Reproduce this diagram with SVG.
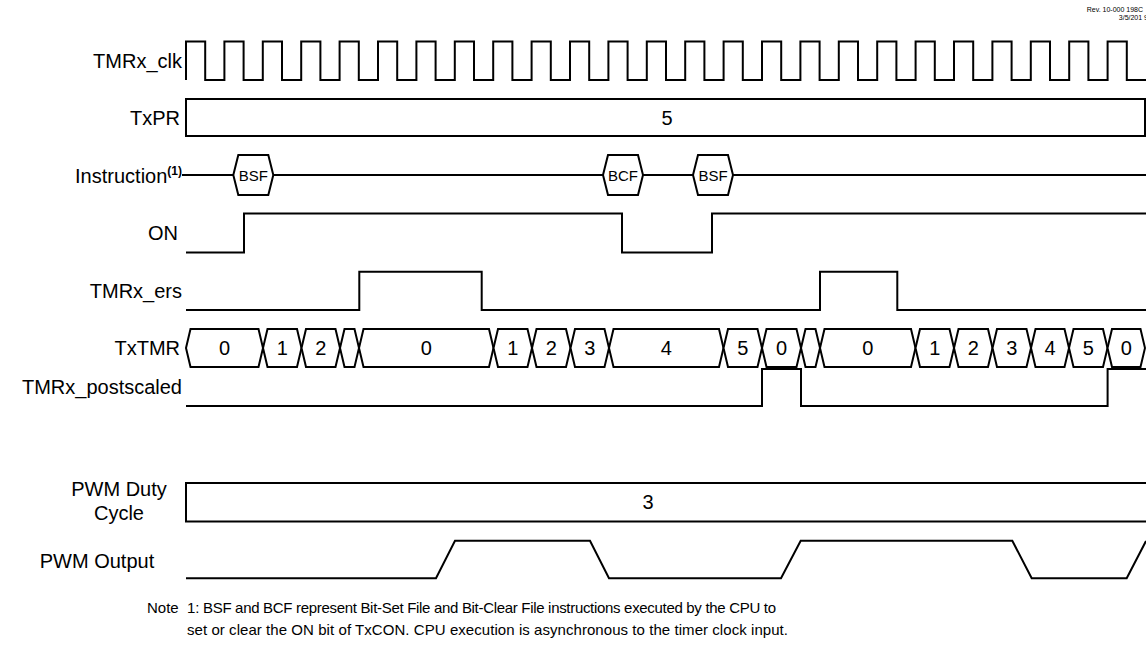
<svg xmlns="http://www.w3.org/2000/svg" width="1146" height="653" viewBox="0 0 1146 653">
<style>
text{font-family:"Liberation Sans",Arial,sans-serif;fill:#000}
.lbl{font-size:20px;text-anchor:end}
.val{font-size:20px;text-anchor:middle}
.ins{font-size:15px;text-anchor:middle}
.note{font-size:15px}
.rev{font-size:7px;text-anchor:end}
.w{fill:none;stroke:#000;stroke-width:2;stroke-linejoin:miter}
.b{fill:#fff;stroke:#000;stroke-width:2}
</style>
<rect width="1146" height="653" fill="#fff"/>
<g id="rev">
<text class="rev" x="1143" y="12">Rev. 10-000 198C</text>
<text class="rev" x="1148" y="20">3/5/201 9</text>
</g>
<g id="clk">
<text class="lbl" x="182" y="68">TMRx_clk</text>
<path class="w" d="M186,80 V41.5 H205.2 V80 H224.4 V41.5 H243.6 V80 H262.8 V41.5 H282 V80 H301.2 V41.5 H320.4 V80 H339.6 V41.5 H358.8 V80 H378 V41.5 H397.2 V80 H416.4 V41.5 H435.6 V80 H454.8 V41.5 H474 V80 H493.2 V41.5 H512.4 V80 H531.6 V41.5 H550.8 V80 H570 V41.5 H589.2 V80 H608.4 V41.5 H627.6 V80 H646.8 V41.5 H666 V80 H685.2 V41.5 H704.4 V80 H723.6 V41.5 H742.8 V80 H762 V41.5 H781.2 V80 H800.4 V41.5 H819.6 V80 H838.8 V41.5 H858 V80 H877.2 V41.5 H896.4 V80 H915.6 V41.5 H934.8 V80 H954 V41.5 H973.2 V80 H992.4 V41.5 H1011.6 V80 H1030.8 V41.5 H1050 V80 H1069.2 V41.5 H1088.4 V80 H1107.6 V41.5 H1126.8 V80 H1146"/>
</g>
<g id="txpr">
<text class="lbl" x="180" y="125">TxPR</text>
<rect class="b" x="186" y="99" width="959" height="37"/>
<text class="val" x="667" y="125">5</text>
</g>
<g id="instruction">
<text class="lbl" x="182" y="183">Instruction<tspan font-size="12" font-weight="bold" dy="-8">(1)</tspan></text>
<line class="w" x1="182" y1="175" x2="1146" y2="175"/>
<polygon class="b" points="233.3,175 238.3,155 268.3,155 273.3,175 268.3,195 238.3,195"/>
<text class="ins" x="253.3" y="181">BSF</text>
<polygon class="b" points="603,175 608,155 638,155 643,175 638,195 608,195"/>
<text class="ins" x="623" y="181">BCF</text>
<polygon class="b" points="693,175 698,155 728,155 733,175 728,195 698,195"/>
<text class="ins" x="713" y="181">BSF</text>
</g>
<g id="on">
<text class="lbl" x="178" y="240">ON</text>
<path class="w" d="M186,252.5 H244 V213.5 H622 V252.5 H712 V213.5 H1146"/>
</g>
<g id="ers">
<text class="lbl" x="182" y="298">TMRx_ers</text>
<path class="w" d="M186,310 H359.3 V271.7 H481.7 V310 H820 V271.7 H897.3 V310 H1146"/>
</g>
<g id="txtmr">
<text class="lbl" x="180" y="355">TxTMR</text>
<polygon class="b" points="186,348 190.5,329 258.5,329 263,348 258.5,367 190.5,367"/>
<polygon class="b" points="263,348 267.5,329 297,329 301.5,348 297,367 267.5,367"/>
<polygon class="b" points="301.5,348 306,329 335.5,329 340,348 335.5,367 306,367"/>
<polygon class="b" points="340,348 344.5,329 354.5,329 359,348 354.5,367 344.5,367"/>
<polygon class="b" points="359,348 363.5,329 489,329 493.5,348 489,367 363.5,367"/>
<polygon class="b" points="493.5,348 498,329 527.5,329 532,348 527.5,367 498,367"/>
<polygon class="b" points="532,348 536.5,329 566,329 570.5,348 566,367 536.5,367"/>
<polygon class="b" points="570.5,348 575,329 604.5,329 609,348 604.5,367 575,367"/>
<polygon class="b" points="609,348 613.5,329 719,329 723.5,348 719,367 613.5,367"/>
<polygon class="b" points="723.5,348 728,329 757.5,329 762,348 757.5,367 728,367"/>
<polygon class="b" points="762,348 766.5,329 796.5,329 801,348 796.5,367 766.5,367"/>
<polygon class="b" points="801,348 805.5,329 815.5,329 820,348 815.5,367 805.5,367"/>
<polygon class="b" points="820,348 824.5,329 911,329 915.5,348 911,367 824.5,367"/>
<polygon class="b" points="915.5,348 920,329 949.5,329 954,348 949.5,367 920,367"/>
<polygon class="b" points="954,348 958.5,329 988,329 992.5,348 988,367 958.5,367"/>
<polygon class="b" points="992.5,348 997,329 1026.5,329 1031,348 1026.5,367 997,367"/>
<polygon class="b" points="1031,348 1035.5,329 1064.5,329 1069,348 1064.5,367 1035.5,367"/>
<polygon class="b" points="1069,348 1073.5,329 1103,329 1107.5,348 1103,367 1073.5,367"/>
<polygon class="b" points="1107.5,348 1112,329 1140.5,329 1145,348 1140.5,367 1112,367"/>
<text class="val" x="224.5" y="355">0</text>
<text class="val" x="282.3" y="355">1</text>
<text class="val" x="320.8" y="355">2</text>
<text class="val" x="426.3" y="355">0</text>
<text class="val" x="512.8" y="355">1</text>
<text class="val" x="551.3" y="355">2</text>
<text class="val" x="589.8" y="355">3</text>
<text class="val" x="666.3" y="355">4</text>
<text class="val" x="742.8" y="355">5</text>
<text class="val" x="781.5" y="355">0</text>
<text class="val" x="867.8" y="355">0</text>
<text class="val" x="934.8" y="355">1</text>
<text class="val" x="973.3" y="355">2</text>
<text class="val" x="1011.8" y="355">3</text>
<text class="val" x="1050" y="355">4</text>
<text class="val" x="1088.3" y="355">5</text>
<text class="val" x="1126.3" y="355">0</text>
</g>
<g id="postscaled">
<text class="lbl" x="182" y="394">TMRx_postscaled</text>
<path class="w" d="M186,406 H762 V369 H801 V406 H1107.6 V369 H1146"/>
</g>
<g id="duty">
<text class="val" x="119" y="496">PWM Duty</text>
<text class="val" x="119" y="520">Cycle</text>
<rect class="b" x="186" y="483" width="961" height="38.5"/>
<text class="val" x="648" y="509">3</text>
</g>
<g id="pwm">
<text class="val" x="97" y="568">PWM Output</text>
<path class="w" d="M186,578.3 H436 L455,540.7 H590 L609,578.3 H781 L800.7,540.7 H1012.3 L1031.7,578.3 H1126.7 L1146,541"/>
</g>
<g id="note">
<text class="note" x="147" y="613">Note</text>
<text class="note" x="187" y="613">1:</text>
<text class="note" x="203" y="613" textLength="573" lengthAdjust="spacing">BSF and BCF represent Bit-Set File and Bit-Clear File instructions executed by the CPU to</text>
<text class="note" x="187" y="635" textLength="601" lengthAdjust="spacing">set or clear the ON bit of TxCON. CPU execution is asynchronous to the timer clock input.</text>
</g>
</svg>
